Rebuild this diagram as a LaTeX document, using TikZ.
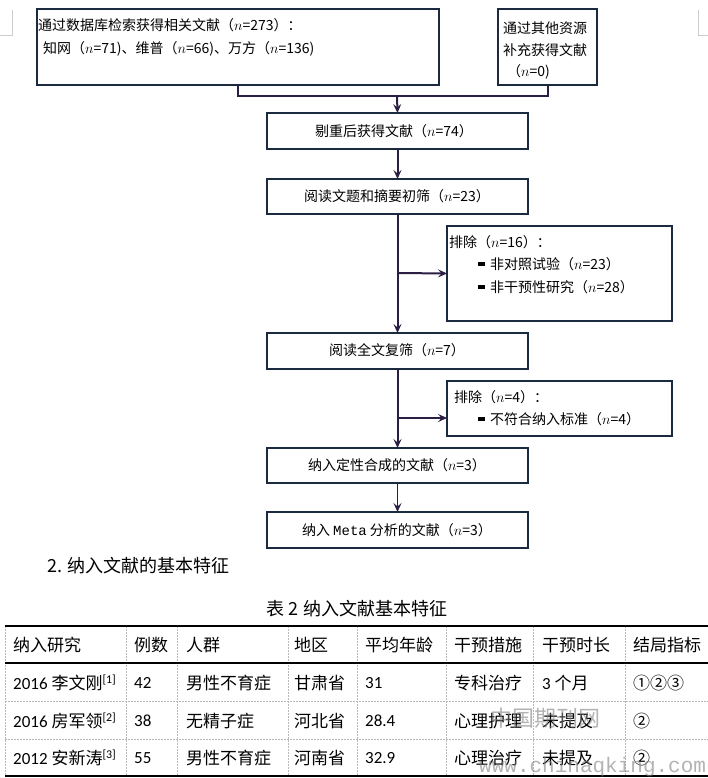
\documentclass[tikz,border=0pt]{standalone}
\usepackage{fontspec}
\setmainfont{Carlito}
\newfontfamily\cjk{Noto Sans CJK SC}
\newfontfamily\monof{Liberation Mono}
\usetikzlibrary{arrows.meta}
\definecolor{boxc}{HTML}{1C2A3F}
\definecolor{arrc}{HTML}{2A1E42}
\newcommand{\zh}[1]{{\cjk #1}}
\begin{document}
\begin{tikzpicture}[x=1pt,y=-1pt,
  fbox/.style={draw=boxc,line width=2.4pt,inner sep=0pt,outer sep=0pt},
  link/.style={draw=arrc,line width=2pt},
  conn/.style={draw=arrc,line width=2pt,-{Stealth[length=9pt,width=8pt,inset=3.5pt]}},
  ft/.style={font=\cjk\fontsize{14}{16}\selectfont,inner sep=0pt,text=black},
  bul/.style={fill=black,minimum width=7pt,minimum height=3.5pt,inner sep=0pt},
  tt/.style={font=\fontsize{17}{20}\selectfont,inner sep=0pt,anchor=west,text=black},
  hd/.style={font=\cjk\fontsize{18}{20}\selectfont,inner sep=0pt,text=black},
  tgrid/.style={draw=gray!55,line width=0.7pt,dash pattern=on 1.5pt off 1.5pt},
  trule/.style={draw=black,line width=1.3pt},
  cmark/.style={draw=gray!40,line width=0.8pt}]
\useasboundingbox (0,0) rectangle (708,778);
% page corner marks
\draw[cmark] (12,10) -- (12,35) -- (0,35);
\draw[cmark] (698,10) -- (698,35) -- (708,35);

% ---------- flowchart boxes ----------
\node[fbox,minimum width=402pt,minimum height=76pt] (b1) at (238,47) {};
\node[fbox,minimum width=99pt,minimum height=76pt] (b2) at (547.5,47) {};
\node[fbox,minimum width=261pt,minimum height=36pt] (b3) at (397.5,131) {};
\node[fbox,minimum width=261pt,minimum height=35pt] (b4) at (397.5,196.5) {};
\node[fbox,minimum width=225pt,minimum height=95pt] (e1) at (559.5,273.5) {};
\node[fbox,minimum width=261pt,minimum height=36pt] (b5) at (397.5,351) {};
\node[fbox,minimum width=225pt,minimum height=55pt] (e2) at (559.5,408.5) {};
\node[fbox,minimum width=261pt,minimum height=35pt] (b6) at (397.5,465.5) {};
\node[fbox,minimum width=261pt,minimum height=36pt] (b7) at (397.5,530) {};

% ---------- texts ----------
\node[ft,anchor=west] (b1a) at (38,25) {通过数据库检索获得相关文献（$n$=273）：};
\node[ft,anchor=west] (b1b) at (43,49) {知网（$n$=71)、维普（$n$=66)、万方（$n$=136)};
\node[ft,anchor=west] (b2a) at (503,28) {通过其他资源};
\node[ft,anchor=west] (b2b) at (503,50) {补充获得文献};
\node[ft,anchor=west] (b2c) at (507,72) {（$n$=0)};
\node[ft] (b3t) at (394,131) {剔重后获得文献（$n$=74）};
\node[ft] (b4t) at (397,196.5) {阅读文题和摘要初筛（$n$=23）};
\node[ft,anchor=west] (e1a) at (449,242) {排除（$n$=16）：};
\node[bul] (e1p) at (481,264) {};
\node[ft,anchor=west] (e1b) at (490,264) {非对照试验（$n$=23）};
\node[bul] (e1q) at (481,287) {};
\node[ft,anchor=west] (e1c) at (490,287) {非干预性研究（$n$=28）};
\node[ft] (b5t) at (397,350) {阅读全文复筛（$n$=7）};
\node[ft,anchor=west] (e2a) at (454,397) {排除（$n$=4）：};
\node[bul] (e2p) at (481,419) {};
\node[ft,anchor=west] (e2b) at (490,419) {不符合纳入标准（$n$=4）};
\node[ft] (b6t) at (397,465.5) {纳入定性合成的文献（$n$=3）};
\node[ft] (b7t) at (397,530) {纳入 {\monof Meta} 分析的文献（$n$=3）};

% ---------- connectors ----------
\coordinate (j) at (397,96);
\coordinate (br1) at (397,273);
\coordinate (br2) at (397,418);
\draw[link] (b1.south) |- (j) -| (b2.south);
\draw[conn] (j) -- (b3.north);
\draw[conn] (b3.south) -- (b4.north);
\draw[conn] (b4.south) -- (b5.north);
\draw[conn] (br1) -- (e1.west);
\draw[conn] (b5.south) -- (b6.north);
\draw[conn] (br2) -- (e2.west |- br2);
\draw[draw=arrc,line width=1.2pt,-{Stealth[length=9pt,width=8pt,inset=3.5pt]}] (b6.south) -- (b7.north);

% ---------- section heading and caption ----------
\node[hd,anchor=west] (sec) at (47,566) {2. 纳入文献的基本特征};
\node[hd] (cap) at (357,609) {表 2 纳入文献基本特征};

% ---------- table ----------
\foreach \x in {5,126,177,288,357,446,533,625} \draw[tgrid] (\x,626) -- (\x,776);
\draw[tgrid] (5,701) -- (708,701);
\draw[tgrid] (5,739) -- (708,739);
\draw[trule] (5,626) -- (708,626);
\draw[trule,line width=1.1pt] (5,663) -- (708,663);
\draw[trule] (5,776) -- (708,776);

\node[tt] (h1) at (13,645) {\zh{纳入研究}};
\node[tt] (h2) at (134,645) {\zh{例数}};
\node[tt] (h3) at (186,645) {\zh{人群}};
\node[tt] (h4) at (294,645) {\zh{地区}};
\node[tt] (h5) at (365,645) {\zh{平均年龄}};
\node[tt] (h6) at (454,645) {\zh{干预措施}};
\node[tt] (h7) at (542,645) {\zh{干预时长}};
\node[tt] (h8) at (633,645) {\zh{结局指标}};

\node[tt] (r11) at (13,683) {2016 \zh{李文刚}\textsuperscript{[1]}};
\node[tt] (r12) at (134,683) {42};
\node[tt] (r13) at (186,683) {\zh{男性不育症}};
\node[tt] (r14) at (294,683) {\zh{甘肃省}};
\node[tt] (r15) at (365,683) {31};
\node[tt] (r16) at (454,683) {\zh{专科治疗}};
\node[tt] (r17) at (542,683) {3 \zh{个月}};
\node[tt] (r18) at (633,683) {\zh{①②③}};

\node[tt] (r21) at (13,721) {2016 \zh{房军领}\textsuperscript{[2]}};
\node[tt] (r22) at (134,721) {38};
\node[tt] (r23) at (186,721) {\zh{无精子症}};
\node[tt] (r24) at (294,721) {\zh{河北省}};
\node[tt] (r25) at (365,721) {28.4};
\node[tt] (r26) at (454,721) {\zh{心理护理}};
\node[tt] (r27) at (542,721) {\zh{未提及}};
\node[tt] (r28) at (633,721) {\zh{②}};

\node[tt] (r31) at (13,758) {2012 \zh{安新涛}\textsuperscript{[3]}};
\node[tt] (r32) at (134,758) {55};
\node[tt] (r33) at (186,758) {\zh{男性不育症}};
\node[tt] (r34) at (294,758) {\zh{河南省}};
\node[tt] (r35) at (365,758) {32.9};
\node[tt] (r36) at (454,758) {\zh{心理治疗}};
\node[tt] (r37) at (542,758) {\zh{未提及}};
\node[tt] (r38) at (633,758) {\zh{②}};

% ---------- watermark ----------
\node[font=\cjk\fontsize{22}{22}\selectfont,text=gray,opacity=0.6,inner sep=0pt] (wm1) at (545,718) {中国期刊网};
\node[font=\monof\fontsize{21}{21}\selectfont,text=gray,opacity=0.6,inner sep=0pt,anchor=west] (wm2) at (479,767) {www.chinaqking.com};
\end{tikzpicture}
\end{document}
